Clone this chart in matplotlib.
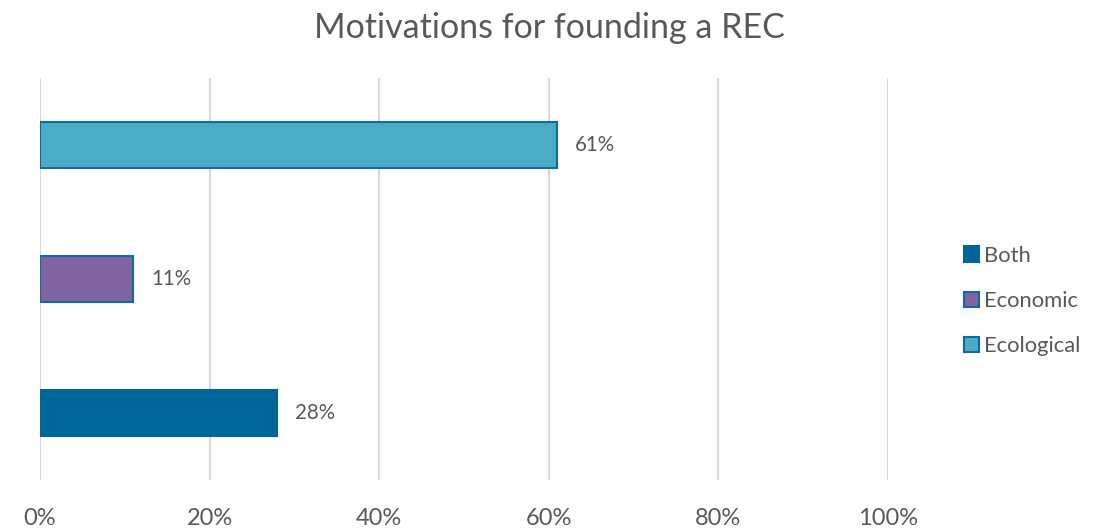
import matplotlib.pyplot as plt
from matplotlib.patches import Patch

categories = ["Both", "Economic", "Ecological"]
shares = [0.28, 0.11, 0.61]
fills = ["#006699", "#8064A2", "#4BACC6"]
edges = ["#006699", "#0E6AA0", "#0E6AA0"]
xticks = [0, 0.2, 0.4, 0.6, 0.8, 1.0]
title = "Motivations for founding a REC"

plt.rcParams["font.family"] = ["Lato", "DejaVu Sans"]
text_color = "#595959"

fig = plt.figure(figsize=(10.98, 5.30), dpi=100)
ax = fig.add_axes([0.0364, 0.0943, 0.7723, 0.7587])

ypos = list(range(len(categories)))
ax.barh(ypos, shares, height=0.345, color=fills, edgecolor=edges, linewidth=1.5, zorder=3)

for y, v in zip(ypos, shares):
    ax.text(v + 0.021, y, f"{round(v * 100)}%", va="center", ha="left",
            fontsize=14.8, color=text_color)

ax.set_xlim(0, 1.0)
ax.set_ylim(-0.5, 2.5)
ax.set_xticks(xticks)
ax.set_xticklabels([f"{int(round(t * 100))}%" for t in xticks], fontsize=17, color=text_color)
ax.set_yticks([])
ax.tick_params(axis="x", length=0, pad=20)
ax.grid(axis="x", color="#D9D9D9", linewidth=1.5, zorder=0)
for s in ax.spines.values():
    s.set_visible(False)

fig.text(0.5, 0.948, title, ha="center", va="center", fontsize=24.5, color=text_color)

handles = [Patch(facecolor=f, edgecolor=e, linewidth=1.5) for f, e in zip(fills, edges)]
fig.legend(handles, categories, loc="center left", bbox_to_anchor=(0.860, 0.432),
           frameon=False, fontsize=15.8, labelcolor=text_color,
           handlelength=0.7, handleheight=0.7, handletextpad=0.2, labelspacing=1.15)

fig.savefig("out.png", dpi=100)
